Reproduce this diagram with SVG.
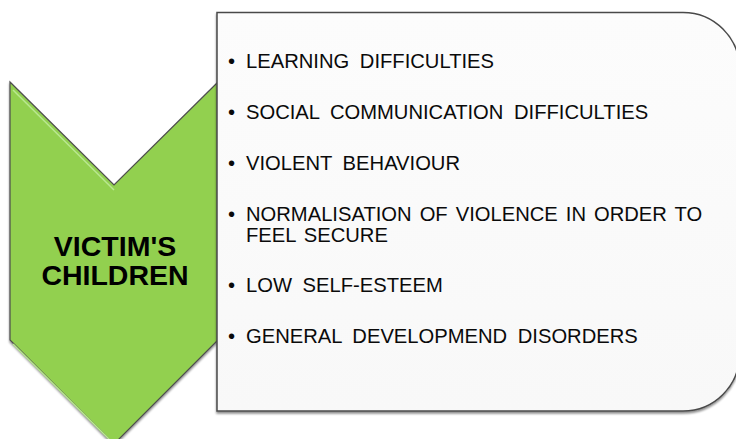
<svg xmlns="http://www.w3.org/2000/svg" width="736" height="439" viewBox="0 0 736 439">
  <defs>
    <linearGradient id="boxFill" x1="0" y1="0" x2="0" y2="1">
      <stop offset="0" stop-color="#fcfcfc"/>
      <stop offset="1" stop-color="#f8f8f8"/>
    </linearGradient>
    <filter id="shadow" x="-5%" y="-5%" width="110%" height="110%">
      <feGaussianBlur in="SourceAlpha" stdDeviation="1.2"/>
      <feOffset dx="0" dy="1.5" result="b"/>
      <feComponentTransfer><feFuncA type="linear" slope="0.45"/></feComponentTransfer>
      <feMerge><feMergeNode/><feMergeNode in="SourceGraphic"/></feMerge>
    </filter>
  </defs>
  <style>
    .item { font-family: "Liberation Sans", Arial, sans-serif; font-size: 20.2px; fill: #0a0a0a; word-spacing: 5px; }
    .tight { word-spacing: 2.4px; }
    .title { font-family: "Liberation Sans", Arial, sans-serif; font-size: 28.5px; font-weight: bold; fill: #000000; text-anchor: middle; }
    .hl { stroke: #b9e890; stroke-width: 1.5; fill: none; }
  </style>
  <rect x="0" y="0" width="736" height="439" fill="#ffffff"/>

  <g id="chevron">
    <path d="M10,82 L114,185 L218,82 L218,340 L114,444 L10,340 Z" fill="#92d050" stroke="#4d4d4d" stroke-width="1.2" filter="url(#shadow)"/>
    <path class="hl" d="M13,90 L114,190"/>
    <path class="hl" d="M13,344 L114,444"/>
    <text class="title" x="115" y="256">VICTIM'S</text>
    <text class="title" x="115" y="285">CHILDREN</text>
  </g>

  <g id="list-box">
    <path d="M217,12.5 L683,12.5 A56.5,56.5 0 0 1 739.5,69 L739.5,354.5 A56.5,56.5 0 0 1 683,411 L217,411 Z" fill="url(#boxFill)" stroke="#4a4a4a" stroke-width="1.5" filter="url(#shadow)"/>
    <g id="items">
      <text class="item" x="228" y="68">•</text><text class="item" x="246" y="68">LEARNING DIFFICULTIES</text>
      <text class="item" x="228" y="119">•</text><text class="item" x="246" y="119">SOCIAL COMMUNICATION DIFFICULTIES</text>
      <text class="item" x="228" y="170">•</text><text class="item" x="246" y="170">VIOLENT BEHAVIOUR</text>
      <text class="item" x="228" y="221">•</text><text class="item tight" x="246" y="221">NORMALISATION OF VIOLENCE IN ORDER TO</text>
      <text class="item tight" x="246" y="242">FEEL SECURE</text>
      <text class="item" x="228" y="292">•</text><text class="item" x="246" y="292">LOW SELF-ESTEEM</text>
      <text class="item" x="228" y="343">•</text><text class="item" x="246" y="343">GENERAL DEVELOPMEND DISORDERS</text>
    </g>
  </g>
  <g id="connectors"/>
</svg>
